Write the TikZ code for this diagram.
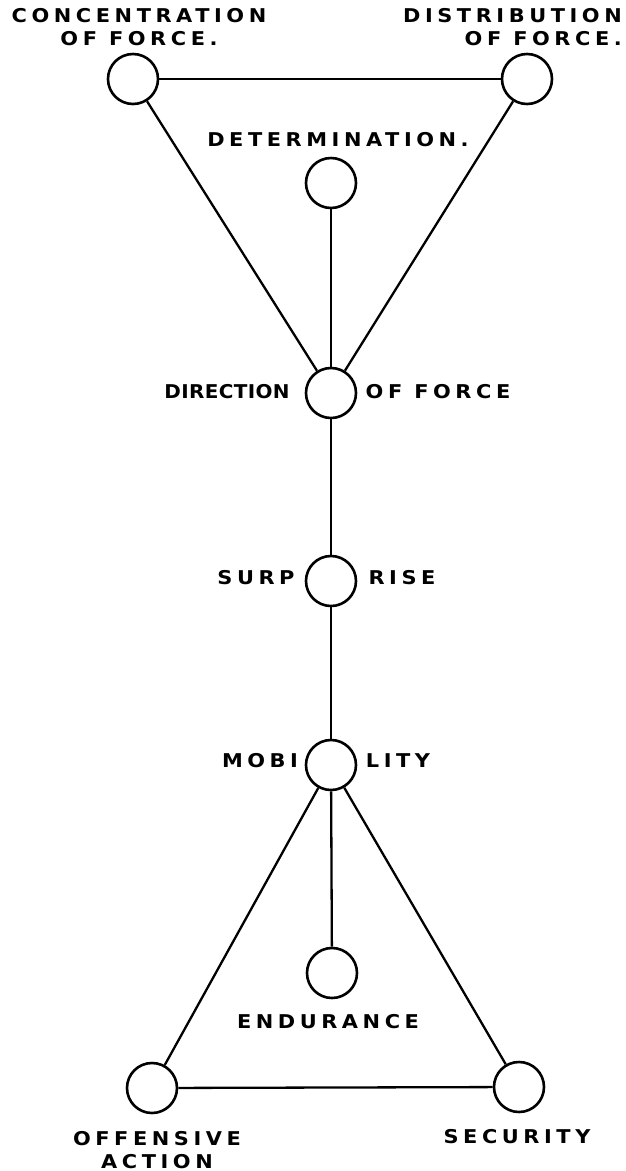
\documentclass[tikz,border=0pt]{standalone}
\usepackage{fontspec}
\newfontfamily\letterfont[LetterSpace=24, FakeStretch=1.1]{DejaVu Sans Bold}
\newfontfamily\tightfont[LetterSpace=2, FakeStretch=1.05]{DejaVu Sans Bold}

\providecommand{\nodesize}{50pt}
\providecommand{\edgethickness}{2.3pt}
\providecommand{\nodeborderthickness}{2.6pt}
\providecommand{\labelsize}{\fontsize{19}{23}\selectfont}
\providecommand{\wordgap}{\kern12pt}

\begin{document}
\begin{tikzpicture}[
    x=1pt, y=-1pt,
    % Node styles
    node_base/.style={
        circle,
        draw=black,
        line width=\nodeborderthickness,
        minimum size=\nodesize,
        inner sep=0pt
    },
    % Edge styles
    normal_edge/.style={
        line width=\edgethickness,
        draw=black
    },
    sublabel/.style={
        font=\letterfont\labelsize,
        align=center,
        inner sep=0pt
    },
    sublabel_tight/.style={
        sublabel,
        font=\tightfont\labelsize
    }
]
    \useasboundingbox (0,0) rectangle (625,1171);

    % ==================== UPPER TRIANGLE ====================
    \node[node_base] (conc) at (133, 79)  {};
    \node[node_base] (dist) at (527, 79)  {};
    \node[node_base] (det)  at (331, 183) {};
    \node[node_base] (dir)  at (331, 393) {};

    \draw[normal_edge] (conc) -- (dist);
    \draw[normal_edge] (conc) -- (dir);
    \draw[normal_edge] (dist) -- (dir);
    \draw[normal_edge] (det)  -- (dir);

    \node[sublabel] (lab_conc) at (139, 27) {CONCENTRATION\\OF\wordgap FORCE.};
    \node[sublabel, align=right, anchor=east] (lab_dist) at (622, 27) {DISTRIBUTION\\OF\wordgap FORCE.};
    \node[sublabel] (lab_det) at (338, 140) {DETERMINATION.};
    \node[sublabel_tight] (lab_dir_a) at (227, 392) {DIRECTION};
    \node[sublabel] (lab_dir_b) at (438, 392) {OF\wordgap FORCE};

    % ==================== MIDDLE CHAIN ====================
    \node[node_base] (surp) at (331, 581) {};
    \node[node_base] (mob)  at (331, 765) {};

    \draw[normal_edge] (dir)  -- (surp);
    \draw[normal_edge] (surp) -- (mob);

    \node[sublabel] (lab_surp_a) at (256, 578) {SURP};
    \node[sublabel] (lab_surp_b) at (402, 578) {RISE};
    \node[sublabel] (lab_mob_a)  at (260, 761) {MOBI};
    \node[sublabel] (lab_mob_b)  at (398, 761) {LITY};

    % ==================== LOWER TRIANGLE ====================
    \node[node_base] (endu) at (332, 973)  {};
    \node[node_base] (off)  at (152, 1088) {};
    \node[node_base] (sec)  at (519, 1087) {};

    \draw[normal_edge] (mob) -- (endu);
    \draw[normal_edge] (mob) -- (off);
    \draw[normal_edge] (mob) -- (sec);
    \draw[normal_edge] (off) -- (sec);

    \node[sublabel] (lab_endu) at (328, 1022) {ENDURANCE};
    \node[sublabel] (lab_off)  at (157, 1150) {OFFENSIVE\\ACTION};
    \node[sublabel] (lab_sec)  at (517, 1137) {SECURITY};

\end{tikzpicture}
\end{document}
